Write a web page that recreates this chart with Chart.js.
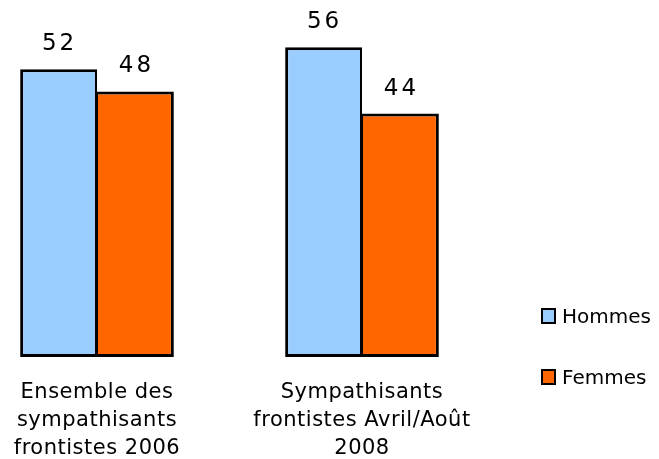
<!DOCTYPE html>
<html lang="fr">
<head>
<meta charset="utf-8">
<script src="https://cdn.jsdelivr.net/npm/chart.js@4/dist/chart.umd.min.js"></script>
<style>
    html, body { margin: 0; padding: 0; background: #fff; }
    #wrap { position: relative; width: 659px; height: 459px; }
    #legende { position: absolute; left: 541px; top: 302px; font-family: "DejaVu Sans", Verdana, sans-serif; font-size: 20px; color: #000; }
    #legende .item { display: flex; align-items: center; height: 28px; margin-bottom: 33px; }
    #legende .boite { width: 11px; height: 12px; border: 2px solid #000; margin-right: 6px; }
</style>
</head>
<body>
<div id="wrap">
    <canvas id="graphique" width="659" height="459"></canvas>
    <div id="legende"></div>
</div>
<script>
const categories = [
    ['Ensemble des', 'sympathisants', 'frontistes 2006'],
    ['Sympathisants', 'frontistes Avril/Août', '2008']
];
const seriesNoms = ['Hommes', 'Femmes'];
const hommes = [52, 56];
const femmes = [48, 44];
const couleurs = ['#99CCFF', '#FF6600'];

// étiquettes de valeur au-dessus des barres
const etiquettesPlugin = {
    id: 'etiquettes',
    beforeDraw(chart) {
        chart.ctx.letterSpacing = '0.5px';
    },
    afterDatasetsDraw(chart) {
        const ctx = chart.ctx;
        ctx.save();
        ctx.font = '23px "DejaVu Sans", Verdana, sans-serif';
        ctx.letterSpacing = '3px';
        ctx.fillStyle = '#000';
        ctx.textAlign = 'center';
        ctx.textBaseline = 'alphabetic';
        chart.data.datasets.forEach((ds, i) => {
            chart.getDatasetMeta(i).data.forEach((bar, j) => {
                ctx.fillText(String(ds.data[j]), bar.x + 1, bar.y - 19);
            });
        });
        ctx.restore();
    }
};

const ctx = document.getElementById('graphique').getContext('2d');
const graphique = new Chart(ctx, {
    type: 'bar',
    data: {
        labels: categories,
        datasets: [
            {
                label: seriesNoms[0], data: hommes, backgroundColor: couleurs[0], borderColor: '#000',
                borderWidth: { top: 3, left: 3, bottom: 3, right: 2 }, borderSkipped: false, clip: false
            },
            {
                label: seriesNoms[1], data: femmes, backgroundColor: couleurs[1], borderColor: '#000',
                borderWidth: { top: 3, left: 1, bottom: 3, right: 3 }, borderSkipped: false, clip: false
            }
        ]
    },
    options: {
        responsive: false,
        animation: false,
        categoryPercentage: 0.58,
        barPercentage: 1,
        layout: { padding: { left: 97, right: 297, top: 25, bottom: 0 } },
        plugins: { legend: { display: false }, tooltip: { enabled: false } },
        scales: {
            x: {
                offset: false,
                grid: { display: false, drawTicks: false },
                border: { display: false },
                afterFit(scale) {
                    scale.height = 102;
                    scale.paddingLeft = 0;
                    scale.paddingRight = 0;
                },
                ticks: {
                    color: '#000',
                    padding: 22,
                    maxRotation: 0,
                    font: { family: '"DejaVu Sans", Verdana, sans-serif', size: 21, lineHeight: '28px' }
                }
            },
            y: { display: false, min: 0, max: 60 }
        }
    },
    plugins: [etiquettesPlugin]
});

// légende HTML construite depuis les séries
const legende = document.getElementById('legende');
graphique.data.datasets.forEach(ds => {
    const item = document.createElement('div');
    item.className = 'item';
    item.innerHTML = '<span class="boite" style="background:' + ds.backgroundColor + '"></span><span>' + ds.label + '</span>';
    legende.appendChild(item);
});
</script>
</body>
</html>
